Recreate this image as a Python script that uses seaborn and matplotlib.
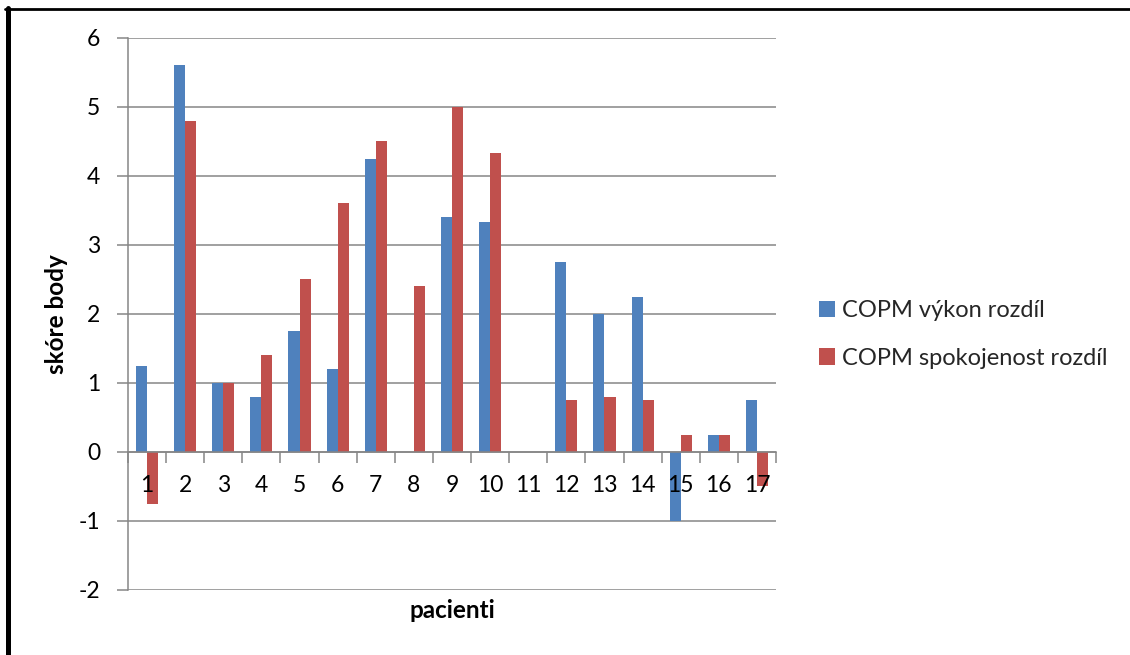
import numpy as np
import pandas as pd
import matplotlib
matplotlib.use("Agg")
import matplotlib.pyplot as plt
from matplotlib.lines import Line2D
import seaborn as sns

# Patients and COPM score differences
patients = [str(i) for i in range(1, 18)]
vykon = [1.25, 5.6, 1.0, 0.8, 1.75, 1.2, 4.25, 0.0, 3.4, 3.33, 0.0,
         2.75, 2.0, 2.25, -1.0, 0.25, 0.75]
spokojenost = [-0.75, 4.8, 1.0, 1.4, 2.5, 3.6, 4.5, 2.4, 5.0, 4.33, 0.0,
               0.75, 0.8, 0.75, 0.25, 0.25, -0.5]
series_names = ["COPM výkon rozdíl", "COPM spokojenost rozdíl"]
y_ticks = [-2, -1, 0, 1, 2, 3, 4, 5, 6]

BLUE = "#4F81BD"
RED = "#C0504D"
GRID = "#868686"

sns.set_theme(style="white")
plt.rcParams["font.family"] = ["Lato", "DejaVu Sans"]

df = pd.DataFrame({
    "pacienti": patients * 2,
    "skore": vykon + spokojenost,
    "serie": [series_names[0]] * len(patients) + [series_names[1]] * len(patients),
})

fig = plt.figure(figsize=(11.3, 6.55), dpi=100)
ax = fig.add_axes([128 / 1130, 1 - 590 / 655, 648 / 1130, 552.3 / 655])

sns.barplot(data=df, x="pacienti", y="skore", hue="serie", order=patients,
            hue_order=series_names, palette=[BLUE, RED], width=0.58, gap=0,
            saturation=1, linewidth=0, errorbar=None, ax=ax)

ax.set_xlim(-0.5, 16.5)
ax.set_ylim(-2, 6)
ax.set_yticks(y_ticks)
ax.set_yticklabels([str(t) for t in y_ticks])

# horizontal gridlines behind the bars
ax.yaxis.grid(True, color=GRID, lw=1.1)
ax.xaxis.grid(False)
ax.set_axisbelow(True)
ax.xaxis.set_zorder(3)

for s in ("top", "right"):
    ax.spines[s].set_visible(False)
ax.spines["left"].set_color(GRID)
ax.spines["left"].set_linewidth(1.1)
ax.spines["bottom"].set_position(("data", 0))
ax.spines["bottom"].set_color(GRID)
ax.spines["bottom"].set_linewidth(1.1)

ax.tick_params(axis="y", which="major", direction="out", length=8, width=1.1,
               color=GRID, pad=12, labelsize=16.5, left=True, labelcolor="black")

# category labels at centres, tick marks between categories
ax.set_xticks(range(len(patients)))
ax.set_xticklabels(patients)
ax.set_xticks(np.arange(-0.5, len(patients), 1.0), minor=True)
ax.tick_params(axis="x", which="major", length=0, pad=16.5, labelsize=16.5,
               labelcolor="black")
ax.tick_params(axis="x", which="minor", direction="out", length=8, width=1.1,
               color=GRID, bottom=True)

ax.set_xlabel("pacienti", fontsize=17.5, fontweight="bold", color="black")
ax.xaxis.set_label_coords(0.5, -0.016)
ax.set_ylabel("skóre body", fontsize=17.5, fontweight="bold", color="black")
ax.yaxis.set_label_coords(-0.093, 0.5)

handles, labels = ax.get_legend_handles_labels()
ax.get_legend().remove()
fig.legend(handles, labels, loc="upper left",
           bbox_to_anchor=(819 / 1130, 1 - 300 / 655), frameon=False,
           fontsize=17, handlelength=0.68, handleheight=0.68,
           handletextpad=0.3, labelspacing=1.13, borderpad=0,
           borderaxespad=0)

# outer frame
fig.add_artist(Line2D([7.5 / 1130, 7.5 / 1130], [0, 1 - 8 / 655],
                      transform=fig.transFigure, color="black", lw=3.6))
fig.add_artist(Line2D([5 / 1130, 1], [1 - 9.3 / 655, 1 - 9.3 / 655],
                      transform=fig.transFigure, color="black", lw=2.0))

fig.savefig("out.png", dpi=100)
